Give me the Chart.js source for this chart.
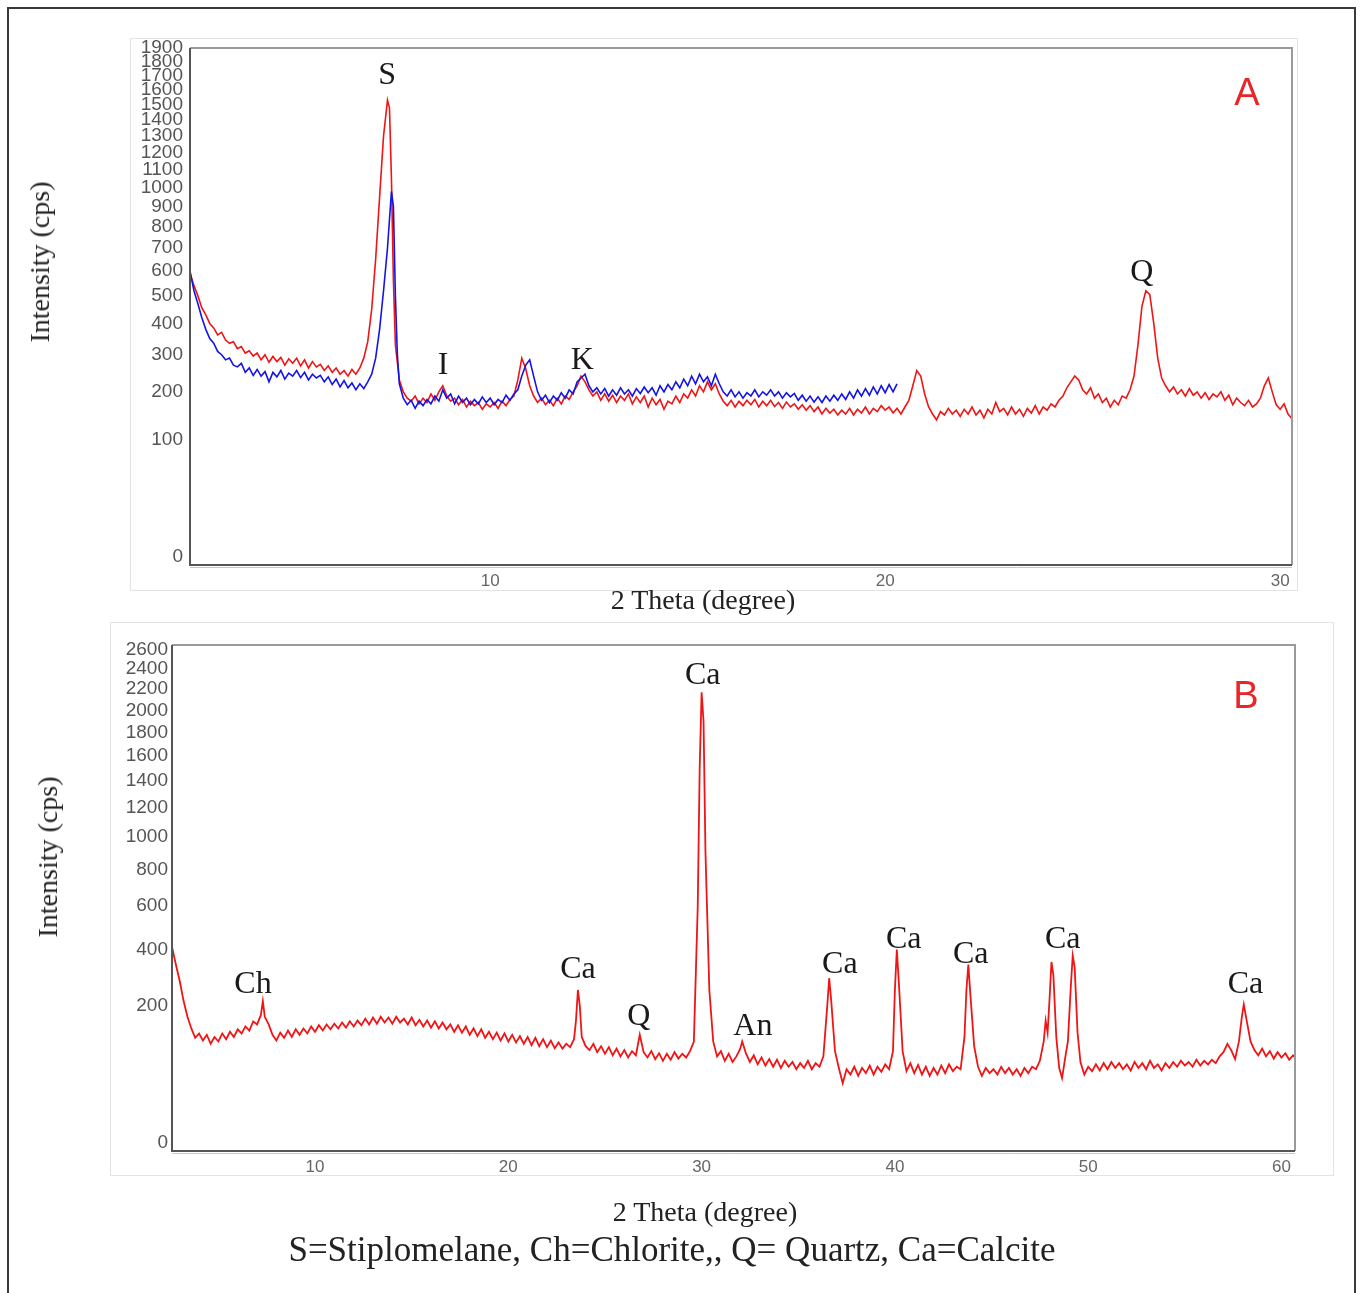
<!DOCTYPE html>
<html>
<head>
<meta charset="utf-8">
<title>XRD patterns A and B</title>
<script src="https://cdn.jsdelivr.net/npm/chart.js@4.4.1/dist/chart.umd.min.js"></script>
<style>
  html, body { margin: 0; padding: 0; background: #fff; }
  body { width: 1363px; height: 1293px; position: relative; overflow: hidden; }
  .frame { position: absolute; left: 7px; top: 7px; width: 1345px; height: 1320px; border: 2px solid #3a3a3a; }
  .shot { position: absolute; border: 1px solid #e3e3e3; }
  canvas { position: absolute; left: 0; }
  .serif { position: absolute; font-family: "Liberation Serif", "Times New Roman", serif; color: #222; white-space: nowrap; transform: translate(-50%, -50%); }
  .ytitle { font-size: 28px; transform: translate(-50%, -50%) rotate(-90deg); }
  .xtitle { font-size: 28px; }
  .caption { font-size: 35px; }
</style>
</head>
<body>
<div class="frame"></div>
<div class="shot" style="left:130px;top:38px;width:1166px;height:551px;"></div>
<div class="shot" style="left:110px;top:622px;width:1222px;height:552px;"></div>
<canvas id="chartA" width="1363" height="620" style="top:0"></canvas>
<canvas id="chartB" width="1363" height="673" style="top:620px"></canvas>
<div class="serif ytitle" style="left:40px;top:262px;">Intensity (cps)</div>
<div class="serif ytitle" style="left:48px;top:857px;">Intensity (cps)</div>
<div class="serif xtitle" style="left:703px;top:600px;">2 Theta (degree)</div>
<div class="serif xtitle" style="left:705px;top:1212px;">2 Theta (degree)</div>
<div class="serif caption" style="left:672px;top:1250px;">S=Stiplomelane, Ch=Chlorite,, Q= Quartz, Ca=Calcite</div>
<script>
// scan A, first sample (red): [2theta, counts]
var scanA_red = [
  [2.4,590],[2.5,540],[2.6,500],[2.7,455],[2.8,430],[2.9,400],[3.0,385],[3.1,362],[3.2,370],[3.3,345],
  [3.4,335],[3.5,340],[3.6,318],[3.7,325],[3.8,305],[3.9,312],[4.0,296],[4.1,305],[4.2,285],[4.3,300],
  [4.4,278],[4.5,295],[4.6,280],[4.7,292],[4.8,270],[4.9,288],[5.0,275],[5.1,290],[5.2,268],[5.3,285],
  [5.4,262],[5.5,280],[5.6,265],[5.7,272],[5.8,255],[5.9,268],[6.0,250],[6.1,262],[6.2,245],[6.3,255],
  [6.4,240],[6.5,258],[6.6,245],[6.7,262],[6.8,290],[6.9,340],[7.0,450],[7.1,650],[7.2,950],[7.3,1300],
  [7.4,1530],[7.45,1480],[7.5,1050],[7.55,560],[7.6,330],[7.7,230],[7.8,200],[7.9,185],[8.0,178],[8.1,190],
  [8.2,172],[8.3,185],[8.4,175],[8.5,195],[8.6,180],[8.7,200],[8.8,215],[8.9,190],[9.0,178],[9.1,185],
  [9.2,170],[9.3,182],[9.4,165],[9.5,178],[9.6,168],[9.7,175],[9.8,160],[9.9,172],[10.0,165],[10.1,175],
  [10.2,162],[10.3,178],[10.4,168],[10.5,182],[10.6,190],[10.7,230],[10.8,290],[10.9,260],[11.0,215],[11.1,190],
  [11.2,175],[11.3,185],[11.4,170],[11.5,180],[11.6,168],[11.7,185],[11.8,172],[11.9,190],[12.0,182],[12.1,200],
  [12.2,215],[12.3,240],[12.4,225],[12.5,205],[12.6,190],[12.7,200],[12.8,180],[12.9,195],[13.0,178],[13.1,192],
  [13.2,175],[13.3,190],[13.4,180],[13.5,195],[13.6,172],[13.7,188],[13.8,175],[13.9,190],[14.0,165],[14.1,185],
  [14.2,170],[14.3,182],[14.4,160],[14.5,178],[14.6,172],[14.7,190],[14.8,175],[14.9,195],[15.0,185],[15.1,205],
  [15.2,190],[15.3,215],[15.4,200],[15.5,225],[15.6,205],[15.7,220],[15.8,195],[15.9,178],[16.0,168],[16.1,180],
  [16.2,165],[16.3,178],[16.4,168],[16.5,180],[16.6,170],[16.7,182],[16.8,165],[16.9,178],[17.0,168],[17.1,180],
  [17.2,166],[17.3,175],[17.4,162],[17.5,176],[17.6,165],[17.7,172],[17.8,160],[17.9,170],[18.0,158],[18.1,168],
  [18.2,155],[18.3,165],[18.4,150],[18.5,162],[18.6,152],[18.7,160],[18.8,148],[18.9,158],[19.0,150],[19.1,162],
  [19.2,148],[19.3,160],[19.4,152],[19.5,165],[19.6,150],[19.7,162],[19.8,155],[19.9,168],[20.0,158],[20.1,165],
  [20.2,152],[20.3,162],[20.4,150],[20.5,165],[20.6,180],[20.7,215],[20.8,255],[20.9,240],[21.0,195],[21.1,165],
  [21.2,150],[21.3,138],[21.4,155],[21.5,148],[21.6,162],[21.7,150],[21.8,158],[21.9,145],[22.0,160],[22.1,150],
  [22.2,165],[22.3,148],[22.4,158],[22.5,142],[22.6,160],[22.7,150],[22.8,175],[22.9,155],[23.0,162],[23.1,148],
  [23.2,165],[23.3,150],[23.4,160],[23.5,145],[23.6,162],[23.7,152],[23.8,168],[23.9,150],[24.0,165],[24.1,158],
  [24.2,172],[24.3,165],[24.4,180],[24.5,190],[24.6,210],[24.7,225],[24.8,240],[24.9,230],[25.0,205],[25.1,195],
  [25.2,210],[25.3,185],[25.4,195],[25.5,175],[25.6,185],[25.7,165],[25.8,180],[25.9,170],[26.0,190],[26.1,185],
  [26.2,205],[26.3,240],[26.4,330],[26.5,460],[26.6,520],[26.7,505],[26.8,400],[26.9,290],[27.0,235],[27.1,215],
  [27.2,200],[27.3,212],[27.4,195],[27.5,205],[27.6,190],[27.7,208],[27.8,192],[27.9,200],[28.0,185],[28.1,198],
  [28.2,182],[28.3,195],[28.4,188],[28.5,200],[28.6,180],[28.7,192],[28.8,170],[28.9,185],[29.0,175],[29.1,168],
  [29.2,180],[29.3,165],[29.4,172],[29.5,185],[29.6,215],[29.7,235],[29.8,200],[29.9,170],[30.0,160],[30.1,172],
  [30.2,150],[30.3,140]
];

// scan A, second sample (blue), stops near 20.3 degrees
var scanA_blue = [
  [2.4,600],[2.5,520],[2.6,470],[2.7,420],[2.8,380],[2.9,350],[3.0,335],[3.1,310],[3.2,300],[3.3,285],
  [3.4,290],[3.5,270],[3.6,265],[3.7,275],[3.8,250],[3.9,262],[4.0,242],[4.1,258],[4.2,240],[4.3,252],
  [4.4,225],[4.5,250],[4.6,238],[4.7,255],[4.8,232],[4.9,248],[5.0,240],[5.1,255],[5.2,236],[5.3,250],
  [5.4,230],[5.5,245],[5.6,235],[5.7,242],[5.8,225],[5.9,238],[6.0,218],[6.1,232],[6.2,212],[6.3,228],
  [6.4,210],[6.5,222],[6.6,205],[6.7,220],[6.8,208],[6.9,225],[7.0,245],[7.1,290],[7.2,380],[7.3,520],
  [7.4,700],[7.5,980],[7.55,900],[7.6,500],[7.65,300],[7.7,220],[7.8,185],[7.9,170],[8.0,180],[8.1,162],
  [8.2,178],[8.3,168],[8.4,182],[8.5,172],[8.6,190],[8.7,178],[8.8,205],[8.9,185],[9.0,195],[9.1,172],
  [9.2,190],[9.3,175],[9.4,185],[9.5,170],[9.6,182],[9.7,172],[9.8,188],[9.9,175],[10.0,185],[10.1,170],
  [10.2,182],[10.3,175],[10.4,192],[10.5,180],[10.6,195],[10.7,205],[10.8,240],[10.9,270],[11.0,285],[11.1,240],
  [11.2,200],[11.3,180],[11.4,192],[11.5,175],[11.6,190],[11.7,180],[11.8,198],[11.9,185],[12.0,205],[12.1,195],
  [12.2,225],[12.3,235],[12.4,245],[12.5,215],[12.6,200],[12.7,210],[12.8,195],[12.9,208],[13.0,190],[13.1,205],
  [13.2,192],[13.3,210],[13.4,195],[13.5,205],[13.6,190],[13.7,208],[13.8,196],[13.9,212],[14.0,198],[14.1,210],
  [14.2,192],[14.3,215],[14.4,200],[14.5,218],[14.6,205],[14.7,225],[14.8,210],[14.9,232],[15.0,215],[15.1,240],
  [15.2,220],[15.3,245],[15.4,225],[15.5,238],[15.6,215],[15.7,245],[15.8,220],[15.9,200],[16.0,190],[16.1,205],
  [16.2,188],[16.3,200],[16.4,185],[16.5,198],[16.6,190],[16.7,205],[16.8,188],[16.9,200],[17.0,192],[17.1,205],
  [17.2,190],[17.3,200],[17.4,185],[17.5,198],[17.6,188],[17.7,196],[17.8,180],[17.9,192],[18.0,178],[18.1,190],
  [18.2,176],[18.3,188],[18.4,175],[18.5,190],[18.6,178],[18.7,192],[18.8,180],[18.9,195],[19.0,182],[19.1,200],
  [19.2,185],[19.3,205],[19.4,190],[19.5,208],[19.6,192],[19.7,212],[19.8,195],[19.9,215],[20.0,198],[20.1,218],
  [20.2,200],[20.3,220]
];

// scan B (red): [2theta, counts]
var scanB = [
  [2.6,410],[2.8,340],[3.0,280],[3.2,215],[3.4,170],[3.6,140],[3.8,118],[4.0,128],[4.2,112],[4.4,125],
  [4.6,105],[4.8,120],[5.0,110],[5.2,128],[5.4,115],[5.6,132],[5.8,120],[6.0,138],[6.2,128],[6.4,145],
  [6.6,135],[6.8,158],[7.0,150],[7.2,175],[7.3,215],[7.4,170],[7.6,150],[7.8,125],[8.0,112],[8.2,130],
  [8.4,118],[8.6,135],[8.8,120],[9.0,138],[9.2,125],[9.4,140],[9.6,128],[9.8,145],[10.0,132],[10.2,148],
  [10.4,135],[10.6,150],[10.8,138],[11.0,152],[11.2,140],[11.4,155],[11.6,142],[11.8,158],[12.0,145],[12.2,160],
  [12.4,148],[12.6,165],[12.8,150],[13.0,168],[13.2,152],[13.4,170],[13.6,155],[13.8,168],[14.0,152],[14.2,170],
  [14.4,155],[14.6,165],[14.8,150],[15.0,168],[15.2,148],[15.4,162],[15.6,145],[15.8,160],[16.0,142],[16.2,158],
  [16.4,140],[16.6,155],[16.8,138],[17.0,150],[17.2,132],[17.4,148],[17.6,130],[17.8,145],[18.0,125],[18.2,140],
  [18.4,122],[18.6,138],[18.8,118],[19.0,132],[19.2,115],[19.4,130],[19.6,112],[19.8,128],[20.0,110],[20.2,125],
  [20.4,108],[20.6,122],[20.8,105],[21.0,120],[21.2,102],[21.4,118],[21.6,100],[21.8,115],[22.0,98],[22.2,112],
  [22.4,96],[22.6,108],[22.8,95],[23.0,105],[23.2,98],[23.4,115],[23.5,160],[23.6,250],[23.7,200],[23.8,120],
  [24.0,100],[24.2,92],[24.4,105],[24.6,88],[24.8,100],[25.0,85],[25.2,98],[25.4,82],[25.6,95],[25.8,80],
  [26.0,92],[26.2,78],[26.4,90],[26.6,82],[26.8,125],[27.0,88],[27.2,78],[27.4,90],[27.6,75],[27.8,86],
  [28.0,72],[28.2,85],[28.4,74],[28.6,88],[28.8,76],[29.0,85],[29.2,78],[29.4,90],[29.6,110],[29.8,600],
  [29.9,1500],[30.0,2170],[30.1,1900],[30.2,900],[30.4,250],[30.6,110],[30.8,80],[31.0,90],[31.2,72],[31.4,85],
  [31.6,70],[31.8,80],[32.0,95],[32.1,110],[32.3,85],[32.5,70],[32.7,82],[32.9,66],[33.1,78],[33.3,64],
  [33.5,75],[33.7,62],[33.9,74],[34.1,60],[34.3,72],[34.5,62],[34.7,70],[34.9,58],[35.1,68],[35.3,60],
  [35.5,72],[35.7,58],[35.9,68],[36.1,62],[36.3,80],[36.5,200],[36.6,290],[36.7,220],[36.9,90],[37.1,60],
  [37.3,38],[37.5,58],[37.7,50],[37.9,62],[38.1,48],[38.3,60],[38.5,52],[38.7,64],[38.9,50],[39.1,62],
  [39.3,54],[39.5,66],[39.7,58],[39.9,90],[40.0,250],[40.1,400],[40.2,280],[40.4,90],[40.6,55],[40.8,68],
  [41.0,52],[41.2,65],[41.4,50],[41.6,62],[41.8,48],[42.0,60],[42.2,50],[42.4,64],[42.6,52],[42.8,66],
  [43.0,55],[43.2,62],[43.4,58],[43.6,120],[43.7,250],[43.8,340],[43.9,240],[44.1,100],[44.3,62],[44.5,48],
  [44.7,60],[44.9,52],[45.1,58],[45.3,50],[45.5,62],[45.7,52],[45.9,60],[46.1,50],[46.3,58],[46.5,48],
  [46.7,60],[46.9,52],[47.1,62],[47.3,58],[47.5,72],[47.7,110],[47.8,160],[47.9,130],[48.0,220],[48.1,350],
  [48.2,300],[48.35,120],[48.5,60],[48.65,45],[48.8,75],[48.95,110],[49.1,260],[49.2,375],[49.3,330],[49.45,130],
  [49.6,70],[49.8,50],[50.0,62],[50.2,55],[50.4,66],[50.6,56],[50.8,68],[51.0,58],[51.2,70],[51.4,60],
  [51.6,68],[51.8,58],[52.0,66],[52.2,56],[52.4,70],[52.6,60],[52.8,68],[53.0,58],[53.2,72],[53.4,60],
  [53.6,66],[53.8,56],[54.0,68],[54.2,60],[54.4,70],[54.6,62],[54.8,72],[55.0,64],[55.2,70],[55.4,62],
  [55.6,74],[55.8,64],[56.0,72],[56.2,66],[56.4,74],[56.6,68],[56.8,80],[57.0,88],[57.2,105],[57.4,92],
  [57.6,75],[57.8,110],[57.95,170],[58.05,205],[58.2,160],[58.4,110],[58.6,92],[58.8,82],[59.0,95],[59.2,80],
  [59.4,90],[59.6,76],[59.8,88],[60.0,78],[60.2,86],[60.4,74],[60.6,82],[60.7,78]
];

var countTicksA = [0, 100, 200, 300, 400, 500, 600, 700, 800, 900, 1000, 1100, 1200, 1300, 1400, 1500, 1600, 1700, 1800, 1900];
var countTicksB = [0, 200, 400, 600, 800, 1000, 1200, 1400, 1600, 1800, 2000, 2200, 2400, 2600];
var thetaTicksA = [10, 20, 30];
var thetaTicksB = [10, 20, 30, 40, 50, 60];

// peak labels: text, 2theta, counts where the label sits
var peakTextA = ["S", "I", "K", "Q"];
var peakThetaA = [7.39, 8.81, 12.33, 26.5];
var peakCountsA = [1697, 269, 283, 593];
var peakTextB = ["Ca", "Ch", "Ca", "Q", "An", "Ca", "Ca", "Ca", "Ca", "Ca"];
var peakThetaB = [30.06, 6.79, 23.6, 26.75, 32.65, 37.15, 40.46, 43.92, 48.68, 58.14];
var peakCountsB = [2332, 267, 320, 170, 144, 339, 441, 378, 441, 267];

// square root intensity axis, like the diffractometer software
function ssqrt(v) {
  return v < 0 ? -Math.sqrt(-v) : Math.sqrt(v);
}
class SqrtScale extends Chart.LinearScale {
  getPixelForValue(value) {
    var lo = ssqrt(this.min), hi = ssqrt(this.max);
    return this.getPixelForDecimal((ssqrt(value) - lo) / (hi - lo));
  }
  getValueForPixel(pixel) {
    var lo = ssqrt(this.min), hi = ssqrt(this.max);
    var s = lo + this.getDecimalForPixel(pixel) * (hi - lo);
    return s < 0 ? -s * s : s * s;
  }
}
SqrtScale.id = "sqrt";
SqrtScale.defaults = Chart.LinearScale.defaults;
Chart.register(SqrtScale);

var peakLabels = {
  id: "peakLabels",
  afterDatasetsDraw: function (chart, args, opts) {
    var ctx = chart.ctx;
    var x = chart.scales.x, y = chart.scales.y;
    ctx.save();
    ctx.textAlign = "center";
    ctx.textBaseline = "middle";
    ctx.fillStyle = "#1a1a1a";
    ctx.font = '32px "Liberation Serif", "Times New Roman", serif';
    opts.text.forEach(function (t, i) {
      ctx.fillText(t, x.getPixelForValue(opts.theta[i]), y.getPixelForValue(opts.counts[i]));
    });
    // panel letter
    ctx.fillStyle = "#e8262a";
    ctx.font = '38px "Liberation Sans", Arial, sans-serif';
    ctx.fillText(opts.panel, opts.panelX, opts.panelY);
    ctx.restore();
  },
};

var plotFrame = {
  id: "plotFrame",
  afterDraw: function (chart) {
    var a = chart.chartArea, ctx = chart.ctx;
    ctx.save();
    ctx.lineWidth = 2;
    ctx.strokeStyle = "#9a9a9a";
    ctx.beginPath();
    ctx.moveTo(a.left, a.top);
    ctx.lineTo(a.right, a.top);
    ctx.lineTo(a.right, a.bottom);
    ctx.stroke();
    ctx.strokeStyle = "#555";
    ctx.beginPath();
    ctx.moveTo(a.left, a.top);
    ctx.lineTo(a.left, a.bottom);
    ctx.lineTo(a.right, a.bottom);
    ctx.stroke();
    ctx.strokeStyle = "#c8c8c8";
    ctx.lineWidth = 1;
    ctx.beginPath();
    ctx.moveTo(a.left, a.bottom + 2.5);
    ctx.lineTo(a.right, a.bottom + 2.5);
    ctx.stroke();
    ctx.restore();
  },
};

function makeChart(id, cfg) {
  var tickFont = { family: '"Liberation Sans", Arial, sans-serif', size: 17 };
  var yFont = { family: '"Liberation Sans", Arial, sans-serif', size: 19 };
  return new Chart(document.getElementById(id), {
    type: "line",
    data: {
      datasets: cfg.series.map(function (s) {
        return {
          data: s.data,
          borderColor: s.color,
          borderWidth: cfg.lineWidth,
          pointRadius: 0,
          tension: 0,
        };
      }),
    },
    options: {
      responsive: false,
      animation: false,
      events: [],
      layout: { padding: cfg.padding },
      plugins: {
        legend: { display: false },
        tooltip: { enabled: false },
        peakLabels: cfg.labels,
      },
      scales: {
        x: {
          type: "linear",
          min: cfg.xMin,
          max: cfg.xMax,
          grid: { display: false, drawTicks: false },
          border: { display: false },
          ticks: { autoSkip: false, maxRotation: 0, padding: 6, color: "#666", font: tickFont },
          afterBuildTicks: function (scale) {
            scale.ticks = cfg.xTicks.map(function (v) { return { value: v }; });
          },
          afterFit: function (scale) { scale.height = cfg.xHeight; },
        },
        y: {
          type: "sqrt",
          min: cfg.yMin,
          max: cfg.yMax,
          grid: { display: false, drawTicks: false },
          border: { display: false },
          ticks: {
            autoSkip: false,
            padding: cfg.yPad,
            color: "#555",
            font: yFont,
            callback: function (v) { return String(v); },
          },
          afterBuildTicks: function (scale) {
            scale.ticks = cfg.yTicks.map(function (v) { return { value: v }; });
          },
          afterFit: function (scale) { scale.width = cfg.yWidth; },
        },
      },
    },
    plugins: [peakLabels, plotFrame],
  });
}

makeChart("chartA", {
  series: [
    { data: scanA_blue, color: "#1414e6" },
    { data: scanA_red, color: "#f01414" },
  ],
  lineWidth: 1.6,
  padding: { left: 25, right: 71, top: 48, bottom: 15 },
  xMin: 2.4, xMax: 30.3, xTicks: thetaTicksA, xHeight: 40,
  yMin: -0.47, yMax: 1900, yTicks: countTicksA, yWidth: 165, yPad: 7,
  labels: { text: peakTextA, theta: peakThetaA, counts: peakCountsA, panel: "A", panelX: 1247, panelY: 95 },
});

makeChart("chartB", {
  series: [{ data: scanB, color: "#f01414" }],
  lineWidth: 1.8,
  padding: { left: 0, right: 68, top: 25, bottom: 102 },
  xMin: 2.6, xMax: 60.7, xTicks: thetaTicksB, xHeight: 40,
  yMin: -0.7, yMax: 2650, yTicks: countTicksB, yWidth: 172, yPad: 4,
  labels: { text: peakTextB, theta: peakThetaB, counts: peakCountsB, panel: "B", panelX: 1246, panelY: 78 },
});
</script>
</body>
</html>
